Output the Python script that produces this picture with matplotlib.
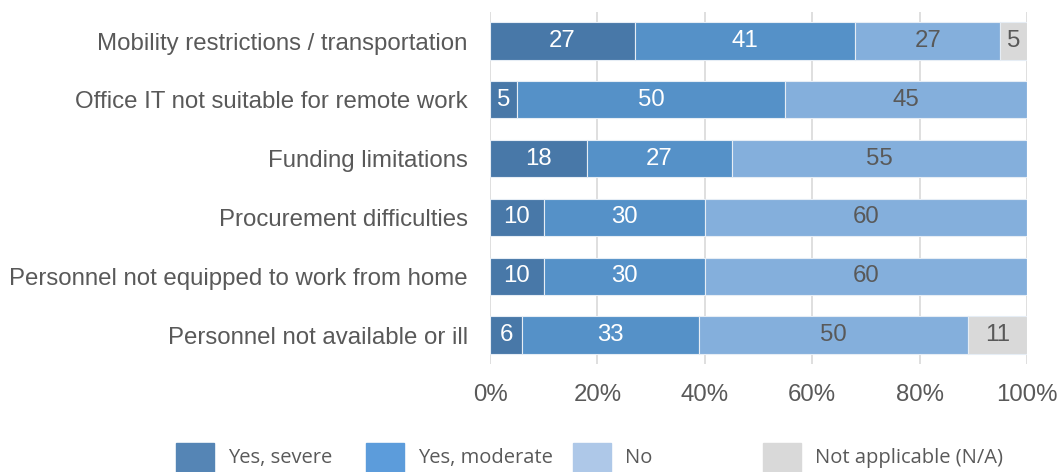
import numpy as np
import matplotlib
matplotlib.use("Agg")
from matplotlib import pyplot as plt
from matplotlib.patches import Rectangle

categories = [
    "Mobility restrictions / transportation",
    "Office IT not suitable for remote work",
    "Funding limitations",
    "Procurement difficulties",
    "Personnel not equipped to work from home",
    "Personnel not available or ill",
]
series_names = ["Yes, severe", "Yes, moderate", "No", "Not applicable (N/A)"]
severe = [27, 5, 18, 10, 10, 6]
moderate = [41, 50, 27, 30, 30, 33]
no = [27, 45, 55, 60, 60, 50]
not_applicable = [5, 0, 0, 0, 0, 11]
xticks = [0, 20, 40, 60, 80, 100]

bar_colors = ["#4878a8", "#5591c8", "#84afdc", "#d9d9d9"]
legend_colors = ["#5585b5", "#5c9cdb", "#aec8e8", "#d9d9d9"]
label_colors = ["white", "white", "#595959", "#595959"]
text_color = "#595959"
fs = 17.3

plt.rcParams['font.family'] = ['Liberation Sans', 'DejaVu Sans']

W, H = 1063, 472
fig = plt.figure(figsize=(W / 100, H / 100), dpi=100)
# axes box in pixels: x 490..1027, y 11.6..364.4
ax = fig.add_axes([490 / W, 1 - 364.4 / H, 537 / W, 352.8 / H])

y = np.arange(len(categories))
left = np.zeros(len(categories))
for vals, c, lc in zip([severe, moderate, no, not_applicable], bar_colors, label_colors):
    vals = np.array(vals, dtype=float)
    ax.barh(y, vals, left=left, height=0.63, color=c,
            edgecolor="#e6edf5", linewidth=0.8, zorder=2)
    for yi, v, l in zip(y, vals, left):
        if v > 0:
            ax.text(l + v / 2, yi, f"{v:.0f}", ha="center", va="center",
                    color=lc, fontsize=fs, zorder=3)
    left += vals

ax.set_xlim(0, 100)
ax.set_ylim(len(categories) - 0.5, -0.5)
ax.set_yticks(y, categories, fontsize=fs, color=text_color)
ax.set_xticks(xticks, [f"{t}%" for t in xticks], fontsize=fs, color=text_color)
ax.tick_params(axis="y", length=0, pad=16)
ax.tick_params(axis="x", length=0, pad=14)
for s in ax.spines.values():
    s.set_visible(False)
ax.grid(axis="x", color="#d9d9d9", linewidth=1.2, zorder=0)
ax.grid(axis="y", visible=False)
ax.set_axisbelow(True)

# legend drawn by hand to match the even column layout
leg_x = [176, 366, 573, 763]
for px, name, c in zip(leg_x, series_names, legend_colors):
    fig.add_artist(Rectangle((px / W, 1 - 472 / H), 38 / W, 29 / H,
                             transform=fig.transFigure, color=c, clip_on=False))
    fig.text((px + 52) / W, 1 - 458 / H, name, ha="left", va="center",
             fontsize=14.5, color=text_color, family=["Open Sans", "DejaVu Sans"])

fig.savefig("out.png", dpi=100)
